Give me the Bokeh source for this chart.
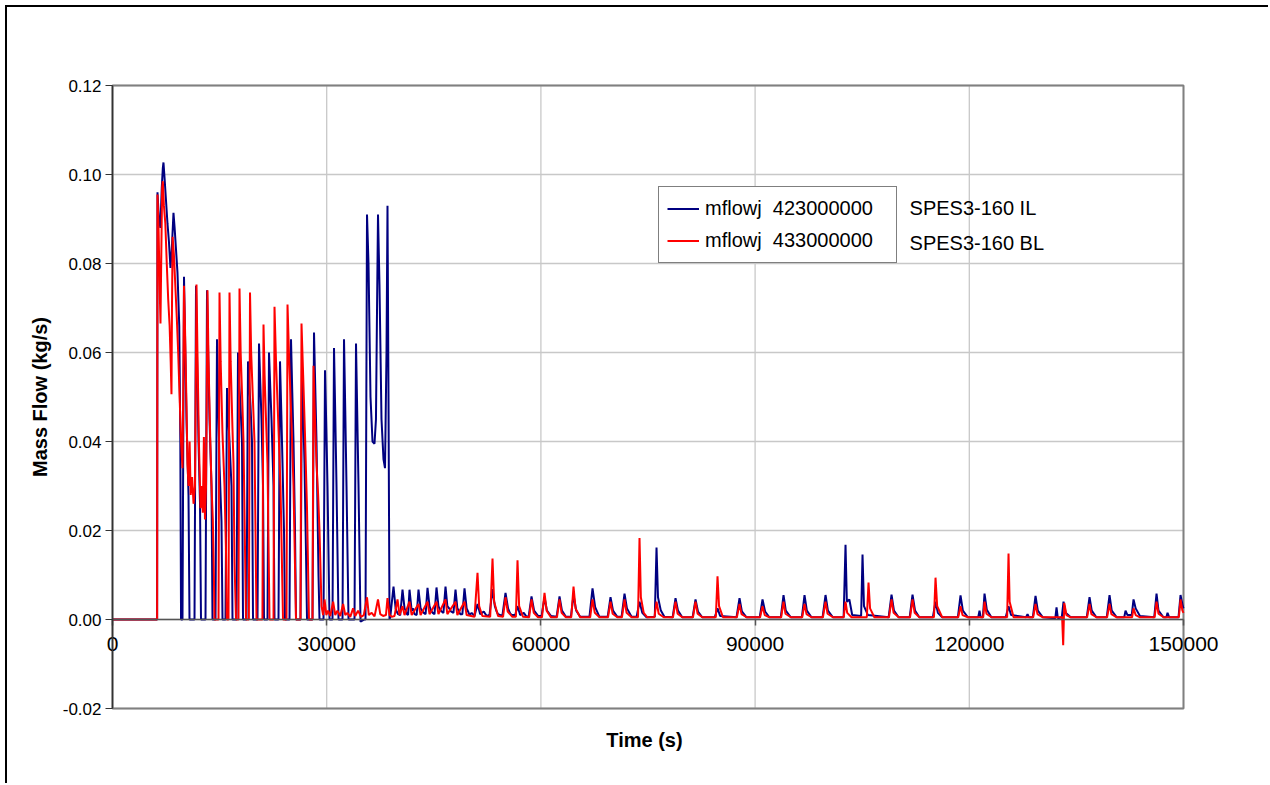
from bokeh.plotting import figure
from bokeh.models import (ColumnDataSource, Legend, LegendItem, Label, LinearAxis,
                          FixedTicker, NumeralTickFormatter, Range1d)
from bokeh.embed import file_html
from bokeh.resources import INLINE

# ---------------- data ----------------
x_ticks = [0, 30000, 60000, 90000, 120000, 150000]
x_tick_labels = ["0", "30000", "60000", "90000", "120000", "150000"]
y_ticks = [-0.02, 0.0, 0.02, 0.04, 0.06, 0.08, 0.10, 0.12]

series_names = ["mflowj  423000000", "mflowj  433000000"]
series_notes = ["SPES3-160 IL", "SPES3-160 BL"]

# mflowj 423000000 (SPES3-160 IL) : (time s, kg/s)
navy_pts = [
    (0, 0), (6250, 0), (6300, 0.096), (6500, 0.090), (6700, 0.088), (6900, 0.097), (7050, 0.1015),
    (7140, 0.1027), (7300, 0.099), (7500, 0.094), (7700, 0.089), (7900, 0.085), (8120, 0.079),
    (8300, 0.083), (8540, 0.0914), (8700, 0.088), (8900, 0.083), (9100, 0.078), (9350, 0.066),
    (9500, 0.040), (9600, 0),
    (9804, 0), (10014, 0.077), (10200, 0.060), (10364, 0.045), (10645, 0.028), (10785, 0),
    (11485, 0), (11695, 0.075), (11850, 0.058), (12045, 0.040), (12255, 0.026), (12395, 0),
    (13026, 0), (13236, 0.074), (13400, 0.060), (13586, 0.045), (13866, 0.030), (14006, 0),
    (14426, 0), (14636, 0.063), (14800, 0.050), (14986, 0.035), (15266, 0.022), (15407, 0),
    (15827, 0), (16037, 0.052), (16200, 0.046), (16387, 0.040), (16667, 0.030), (16807, 0),
    (17367, 0), (17578, 0.060), (17750, 0.053), (17928, 0.048), (18138, 0.040), (18278, 0),
    (18768, 0), (18978, 0.058), (19150, 0.053), (19328, 0.048), (19538, 0.040), (19678, 0),
    (20309, 0), (20519, 0.062), (20700, 0.053), (20869, 0.045), (21079, 0.030), (21219, 0),
    (21709, 0), (21919, 0.060), (22100, 0.052), (22269, 0.045), (22550, 0.030), (22690, 0),
    (23250, 0), (23460, 0.058), (23650, 0.046), (23810, 0.035), (24020, 0.020), (24160, 0),
    (24791, 0), (25001, 0.063), (25180, 0.051), (25351, 0.040), (25561, 0.020), (25701, 0),
    (26331, 0), (26541, 0.057), (26720, 0.046), (26891, 0.035), (27101, 0.015), (27241, 0),
    (28012, 0), (28222, 0.0645), (28400, 0.052), (28572, 0.040), (28852, 0.010), (28992, 0),
    (29553, 0), (29763, 0.056), (29950, 0.043), (30113, 0.030), (30393, 0),
    (30813, 0), (31023, 0.061), (31200, 0.046), (31373, 0.030), (31654, 0),
    (32214, 0), (32424, 0.063), (32600, 0.047), (32774, 0.030), (33054, 0),
    (33895, 0), (34105, 0.062), (34280, 0.046), (34455, 0.030), (34735, -0.0005), (35295, 0),
    (35435, 0), (35645, 0.091), (35855, 0.080), (36135, 0.050), (36415, 0.040), (36695, 0.0395),
    (36900, 0.045), (37050, 0.070), (37185, 0.091), (37395, 0.075), (37675, 0.045), (37955, 0.036),
    (38165, 0.034), (38375, 0.060), (38515, 0.093), (38655, 0.050), (38795, 0), (38900, 0.0005),
    (39357, 0.0074), (39650, 0.0025), (39800, 0.0018), (40000, 0.0012),
    (40300, 0.001), (40617, 0.0067), (40900, 0.0025), (41050, 0.002), (41250, 0.0012),
    (41400, 0.001), (41598, 0.0067), (41900, 0.002), (42100, 0.0025), (42300, 0.0012),
    (42600, 0.001), (42858, 0.0067), (43150, 0.0025), (43350, 0.002), (43600, 0.0015),
    (43850, 0.0012), (44119, 0.0071), (44400, 0.003), (44600, 0.002), (44850, 0.0015),
    (45100, 0.0012), (45379, 0.0072), (45650, 0.003), (45850, 0.0022), (46100, 0.0018),
    (46350, 0.0015), (46640, 0.0074), (46900, 0.003), (47150, 0.0025), (47400, 0.0018),
    (47750, 0.0015), (48041, 0.0067), (48300, 0.0025), (48500, 0.002), (48700, 0.0012),
    (49000, 0.0012), (49301, 0.0070), (49600, 0.0025), (49800, 0.0018), (50000, 0.001),
    (50300, 0.0015), (50700, 0.0008), (51122, 0.0035), (51500, 0.0012), (52000, 0.0018), (52400, 0.0008),
    (52800, 0.001), (53223, 0.0068), (53550, 0.003), (53800, 0.0018), (54000, 0.0012),
    (54600, 0.0008), (55044, 0.006), (55400, 0.0025), (55650, 0.0015), (55900, 0.001),
    (56400, 0.001), (56724, 0.003), (57100, 0.001), (57600, 0.0015), (58000, 0.0006),
    (58300, 0.0008), (58685, 0.0052), (59050, 0.002), (59600, 0.0008),
    (60100, 0.0008), (60506, 0.005), (60850, 0.002), (61400, 0.0008),
    (62200, 0.0006), (62607, 0.0052), (62950, 0.002), (63500, 0.0006),
    (64200, 0.0006), (64568, 0.0055), (64950, 0.002), (65500, 0.0006),
    (66800, 0.0006), (67229, 0.007), (67600, 0.0028), (68200, 0.0006),
    (69350, 0.0006), (69750, 0.005), (70100, 0.002), (70700, 0.0006),
    (71300, 0.0006), (71711, 0.0058), (72050, 0.0025), (72700, 0.0006),
    (73400, 0.0006), (73812, 0.004), (74200, 0.0015), (74800, 0.0005),
    (75950, 0.0006), (76193, 0.0162), (76400, 0.005), (76800, 0.002), (77300, 0.0006),
    (78450, 0.0005), (78854, 0.0048), (79200, 0.002), (79800, 0.0005),
    (81250, 0.0005), (81655, 0.0045), (82000, 0.0018), (82600, 0.0005),
    (84350, 0.0005), (84736, 0.0025), (85100, 0.0008),
    (87400, 0.0005), (87818, 0.0048), (88150, 0.0018), (88800, 0.0005),
    (90650, 0.0005), (91039, 0.0045), (91400, 0.0018), (92000, 0.0005),
    (93600, 0.0005), (93980, 0.0055), (94300, 0.002), (95000, 0.0005),
    (96550, 0.0005), (96921, 0.0055), (97250, 0.002), (97900, 0.0005),
    (99450, 0.0005), (99863, 0.0055), (100200, 0.002), (100900, 0.0005),
    (102400, 0.0005), (102664, 0.0168), (102850, 0.004), (103200, 0.0045), (103600, 0.001),
    (104850, 0.0008), (105045, 0.0146), (105250, 0.003), (105800, 0.001),
    (108700, 0.0005), (109107, 0.0056), (109450, 0.002), (110100, 0.0005),
    (111650, 0.0005), (112048, 0.0056), (112400, 0.002), (113000, 0.0005),
    (114900, 0.0005), (115269, 0.004), (115600, 0.0015), (116200, 0.0005),
    (118400, 0.0005), (118771, 0.0054), (119100, 0.002), (119800, 0.0005),
    (121250, 0.0005), (121432, 0.002), (121600, 0.0005),
    (121900, 0.0005), (122132, 0.0058), (122450, 0.0022), (123100, 0.0005),
    (125100, 0.0005), (125494, 0.003), (125850, 0.001),
    (127950, 0.0005), (128155, 0.0012), (128350, 0.0005),
    (128900, 0.0005), (129275, 0.0053), (129600, 0.002), (130300, 0.0005),
    (132050, 0.0003), (132217, 0.0027), (132400, 0.0003),
    (132950, 0.0005), (133197, 0.004), (133500, 0.0015), (134200, 0.0005),
    (136450, 0.0005), (136839, 0.005), (137150, 0.002), (137800, 0.0005),
    (139250, 0.0005), (139640, 0.0055), (139950, 0.002), (140650, 0.0005),
    (141700, 0.0005), (141881, 0.002), (142150, 0.001),
    (142750, 0.001), (143002, 0.0045), (143300, 0.0025), (143900, 0.0008),
    (145900, 0.0005), (146223, 0.0058), (146500, 0.002), (147200, 0.0005),
    (147600, 0.0005), (147764, 0.0015), (148000, 0.0005),
    (149300, 0.0005), (149584, 0.0055), (149900, 0.003), (150000, 0.0025),
]

# mflowj 433000000 (SPES3-160 BL) : (time s, kg/s)
red_pts = [
    (0, 0), (6250, 0), (6300, 0.0955), (6450, 0.088), (6600, 0.075), (6720, 0.0665), (6820, 0.080),
    (6950, 0.097), (7050, 0.0985), (7200, 0.093), (7400, 0.089), (7600, 0.080), (7800, 0.072),
    (8000, 0.066), (8150, 0.058), (8260, 0.0506), (8330, 0.070), (8420, 0.086), (8600, 0.082),
    (8800, 0.075), (9000, 0.068), (9200, 0.060), (9400, 0.050), (9600, 0.040), (9800, 0.034),
    (9900, 0.050), (10014, 0.075), (10150, 0.066), (10364, 0.048), (10500, 0.035), (10645, 0.030),
    (10800, 0.040), (10950, 0.028), (11150, 0.032), (11350, 0.026), (11550, 0.030), (11650, 0.050),
    (11765, 0.0753), (11900, 0.060), (12100, 0.040), (12325, 0.025), (12500, 0.030), (12650, 0.024),
    (12800, 0.041), (12950, 0.0225), (13100, 0.030), (13200, 0.050), (13306, 0.074), (13450, 0.058),
    (13700, 0.040), (13866, 0.030), (14050, 0.0225), (14200, 0.010), (14286, 0),
    (14850, 0), (14986, 0.0735), (15150, 0.058), (15400, 0.042), (15686, 0.030), (15900, 0.015), (16000, 0),
    (16250, 0), (16387, 0.0735), (16550, 0.058), (16800, 0.043), (16947, 0.035), (17087, 0.0128), (17300, 0),
    (17650, 0), (17788, 0.0744), (17950, 0.060), (18200, 0.048), (18348, 0.040), (18700, 0),
    (19100, 0), (19258, 0.0735), (19420, 0.060), (19700, 0.048), (19888, 0.040), (20169, 0),
    (21000, 0), (21149, 0.0663), (21300, 0.055), (21500, 0.045), (21709, 0.035), (21990, 0),
    (22550, 0), (22690, 0.0703), (22900, 0.058), (23200, 0.045), (23530, 0.030), (23880, 0),
    (24370, 0), (24511, 0.0708), (24750, 0.058), (25050, 0.045), (25351, 0.030), (25701, 0),
    (26330, 0), (26471, 0.0665), (26700, 0.055), (26950, 0.042), (27241, 0.025), (27521, 0),
    (28010, 0), (28152, 0.057), (28300, 0.048), (28572, 0.035), (28800, 0.028), (28992, 0.020),
    (29273, 0.003), (29500, 0.001),
    (29700, 0.0045), (29950, 0.001), (30200, 0.002), (30500, 0.0008), (30900, 0.004), (31200, 0.001),
    (31500, 0.002), (31900, 0.0008), (32300, 0.0035), (32600, 0.001), (32900, 0.0015), (33300, 0.0006),
    (33700, 0.0025), (34000, 0.0008), (34400, 0.002), (34800, 0.0006), (35200, 0.001), (35645, 0.005),
    (35900, 0.001), (36300, 0.0015), (36700, 0.0007), (37185, 0.0045), (37500, 0.0012), (37900, 0.0008),
    (38300, 0.001), (38515, 0.0048), (38800, 0.001), (39100, 0.0006),
    (39500, 0.0008), (39917, 0.0045), (40200, 0.001), (40617, 0.003), (40900, 0.001),
    (41598, 0.004), (41900, 0.001), (42858, 0.0035), (43150, 0.001), (44119, 0.004), (44400, 0.0012),
    (45379, 0.004), (45650, 0.0012), (46640, 0.0045), (46900, 0.0012), (48041, 0.004), (48300, 0.001),
    (49301, 0.004), (49600, 0.001), (50700, 0.0006), (51122, 0.0105), (51350, 0.003), (51800, 0.0008),
    (52900, 0.0006), (53223, 0.0137), (53450, 0.004), (54000, 0.0008),
    (54700, 0.0006), (55044, 0.005), (55350, 0.0018), (56000, 0.0006),
    (56500, 0.0006), (56724, 0.0133), (56950, 0.003), (57500, 0.0006),
    (58350, 0.0005), (58685, 0.0045), (59000, 0.0015), (59600, 0.0005),
    (60150, 0.0005), (60506, 0.006), (60800, 0.002), (61400, 0.0005),
    (62250, 0.0005), (62607, 0.0045), (62900, 0.0015), (63500, 0.0005),
    (64250, 0.0005), (64568, 0.0074), (64850, 0.0025), (65500, 0.0005),
    (66900, 0.0005), (67229, 0.0045), (67550, 0.0015), (68200, 0.0005),
    (69400, 0.0005), (69750, 0.004), (70050, 0.0013), (70700, 0.0005),
    (71350, 0.0005), (71711, 0.0045), (72000, 0.0015), (72700, 0.0005),
    (73600, 0.0005), (73812, 0.0183), (74000, 0.005), (74400, 0.0015), (74900, 0.0005),
    (75900, 0.0005), (76193, 0.004), (76500, 0.0013), (77200, 0.0005),
    (78500, 0.0005), (78854, 0.004), (79150, 0.0013), (79800, 0.0005),
    (81300, 0.0005), (81655, 0.004), (81950, 0.0013), (82600, 0.0005),
    (84500, 0.0005), (84736, 0.0097), (84950, 0.003), (85500, 0.0005),
    (87450, 0.0005), (87818, 0.0035), (88100, 0.0012), (88800, 0.0005),
    (90700, 0.0005), (91039, 0.003), (91350, 0.001), (92000, 0.0005),
    (93650, 0.0005), (93980, 0.004), (94250, 0.0013), (95000, 0.0005),
    (96600, 0.0005), (96921, 0.0035), (97200, 0.0012), (97900, 0.0005),
    (99500, 0.0005), (99863, 0.004), (100150, 0.0013), (100900, 0.0005),
    (102400, 0.0005), (102664, 0.004), (102900, 0.0015), (103500, 0.0005),
    (105650, 0.0005), (105885, 0.0083), (106100, 0.0025), (106700, 0.0005),
    (108750, 0.0005), (109107, 0.0045), (109400, 0.0015), (110100, 0.0005),
    (111700, 0.0005), (112048, 0.0045), (112350, 0.0015), (113000, 0.0005),
    (115050, 0.0005), (115269, 0.0094), (115500, 0.003), (116200, 0.0005),
    (118450, 0.0005), (118771, 0.003), (119050, 0.001), (119800, 0.0005),
    (121950, 0.0005), (122132, 0.004), (122400, 0.0013), (123100, 0.0005),
    (125300, 0.0005), (125494, 0.0148), (125650, 0.004), (126200, 0.0005),
    (128950, 0.0005), (129275, 0.0035), (129550, 0.0012), (130300, 0.0005),
    (133000, 0.0005), (133150, -0.0058), (133300, 0.0037), (133600, 0.001), (134200, 0.0005),
    (136500, 0.0005), (136839, 0.0035), (137100, 0.0012), (137800, 0.0005),
    (139300, 0.0005), (139640, 0.0035), (139900, 0.0012), (140650, 0.0005),
    (142800, 0.0005), (143002, 0.0025), (143300, 0.001), (143900, 0.0005),
    (145950, 0.0005), (146223, 0.004), (146500, 0.0013), (147200, 0.0005),
    (149350, 0.0005), (149584, 0.0045), (149850, 0.002), (150000, 0.0015),
]

# ---------------- figure ----------------
FONT = "Liberation Sans"
X0, X1 = x_ticks[0], x_ticks[-1]
Y0, Y1 = y_ticks[0], y_ticks[-1]
PX_PER_X = 1071.0 / (X1 - X0)    # plot-area width in px / data span
PX_PER_Y = 623.0 / (Y1 - Y0)     # plot-area height in px / data span
pad_left = 56 / PX_PER_X         # room for tick labels overhanging the plot area
pad_right = 49 / PX_PER_X
pad_y = 12 / PX_PER_Y

p = figure(width=1263, height=778,
           x_range=Range1d(X0 - pad_left, X1 + pad_right),
           y_range=Range1d(Y0 - pad_y, Y1 + pad_y),
           output_backend="svg", toolbar_location=None,
           min_border_left=49, min_border_top=66, min_border_right=38, min_border_bottom=65,
           background_fill_color="white", border_fill_color="white")
p.styles = {"margin-left": "5px", "margin-top": "5px",
            "border-left": "2px solid black", "border-top": "2px solid black"}
p.outline_line_color = None
p.xgrid.grid_line_color = None
p.ygrid.grid_line_color = None

# grid lines restricted to the plot area
p.segment(x0=x_ticks, x1=x_ticks, y0=[Y0] * len(x_ticks), y1=[Y1] * len(x_ticks),
          line_color="#c8c8c8", line_width=1.3)
p.segment(x0=[X0] * len(y_ticks), x1=[X1] * len(y_ticks), y0=y_ticks, y1=y_ticks,
          line_color="#c8c8c8", line_width=1.3)
# plot-area border
p.quad(left=[X0], right=[X1], bottom=[Y0], top=[Y1], fill_color=None,
       line_color="#808080", line_width=2)

# y axis at x = 0
yax = p.yaxis[0]
yax.fixed_location = X0
yax.bounds = (Y0, Y1)
yax.ticker = FixedTicker(ticks=y_ticks)
yax.formatter = NumeralTickFormatter(format="0.00")
yax.major_label_text_font = FONT
yax.major_label_text_font_size = "17px"
yax.major_label_text_color = "black"
yax.major_label_standoff = 4
yax.major_tick_out = 7
yax.major_tick_in = 0
yax.minor_tick_line_color = None
yax.axis_line_color = "#333333"
yax.axis_line_width = 1.5
yax.major_tick_line_color = "#333333"

ytitle = LinearAxis(ticker=FixedTicker(ticks=[]), axis_line_color=None,
                    major_tick_line_color=None, minor_tick_line_color=None,
                    axis_label="Mass Flow (kg/s)", axis_label_text_font=FONT,
                    axis_label_text_font_size="20px", axis_label_text_font_style="bold",
                    axis_label_text_color="black", axis_label_standoff=6)
p.add_layout(ytitle, "left")

# x axis crossing at y = 0
xax = p.xaxis[0]
xax.fixed_location = 0
xax.bounds = (X0, X1)
xax.ticker = FixedTicker(ticks=x_ticks)
xax.major_label_overrides = {t: s for t, s in zip(x_ticks, x_tick_labels)}
xax.major_label_text_font = FONT
xax.major_label_text_font_size = "21px"
xax.major_label_text_color = "black"
xax.major_label_standoff = 11
xax.major_tick_out = 6
xax.major_tick_in = 0
xax.minor_tick_line_color = None
xax.axis_line_color = "#555555"
xax.axis_line_width = 1.5
xax.major_tick_line_color = "#555555"
xax.major_tick_line_width = 1.5

xtitle = LinearAxis(ticker=FixedTicker(ticks=[]), axis_line_color=None,
                    major_tick_line_color=None, minor_tick_line_color=None,
                    axis_label="Time (s)", axis_label_text_font=FONT,
                    axis_label_text_font_size="20px", axis_label_text_font_style="bold",
                    axis_label_text_color="black", axis_label_standoff=8)
p.add_layout(xtitle, "below")

# series
navy_src = ColumnDataSource(dict(t=[a for a, b in navy_pts], v=[b for a, b in navy_pts]))
red_src = ColumnDataSource(dict(t=[a for a, b in red_pts], v=[b for a, b in red_pts]))
r1 = p.line("t", "v", source=navy_src, line_color="#000080", line_width=2)
r2 = p.line("t", "v", source=red_src, line_color="#FF0000", line_width=2)

# legend (position relative to the frame's bottom-left corner, in px)
legend = Legend(items=[LegendItem(label=series_names[0], renderers=[r1]),
                       LegendItem(label=series_names[1], renderers=[r2])],
                location=(602, 457), orientation="vertical",
                border_line_color="black", border_line_width=1,
                background_fill_color="white", background_fill_alpha=1,
                label_text_font=FONT, label_text_font_size="20px", label_text_color="black",
                glyph_width=32, glyph_height=27, label_height=27, label_width=183,
                label_standoff=6, spacing=5, padding=8, margin=0)
p.add_layout(legend)

# notes beside legend
for note, yv in zip(series_notes, [0.0924, 0.0847]):
    p.add_layout(Label(x=111630, y=yv, text=note, text_baseline="middle",
                       text_font=FONT, text_font_size="20px", text_color="black"))

open("out.html", "w").write(file_html(p, INLINE))
